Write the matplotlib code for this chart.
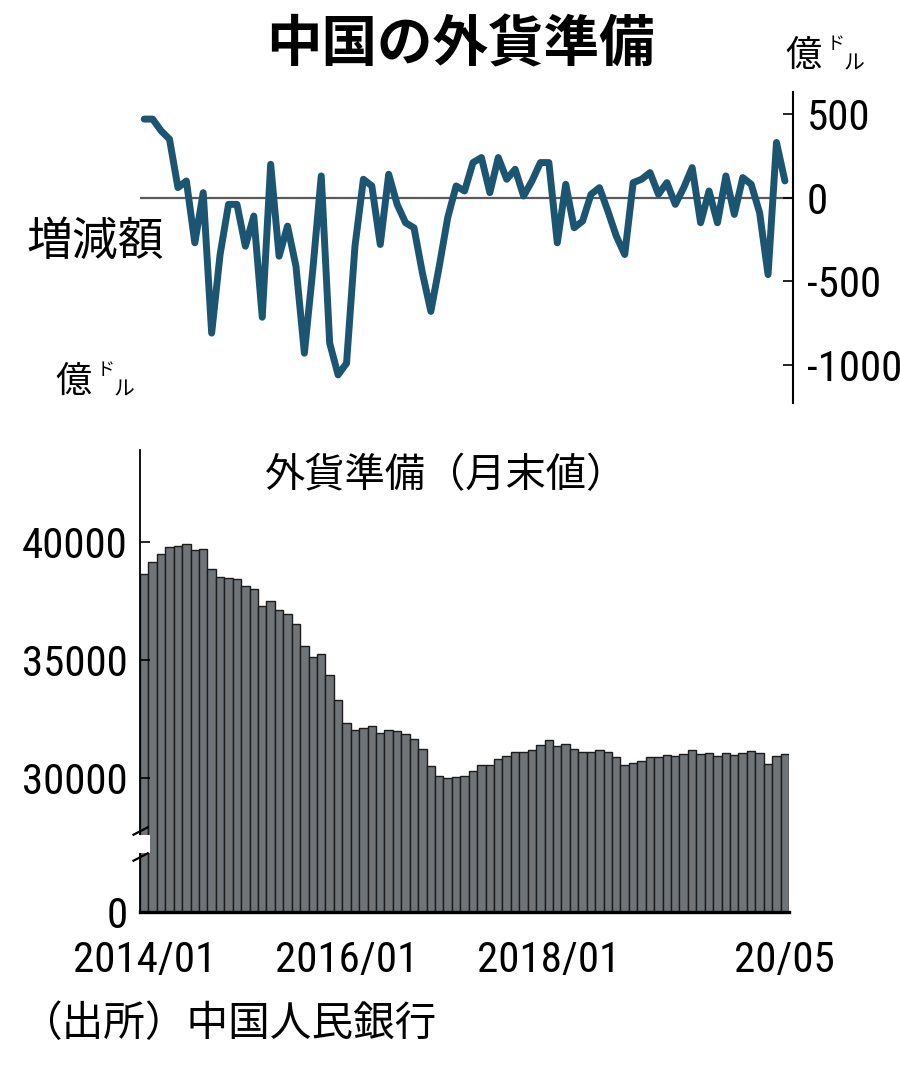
import matplotlib
matplotlib.use("Agg")
import matplotlib.pyplot as plt
from matplotlib import font_manager
from matplotlib.patches import Rectangle
import numpy as np

# monthly data 2014/01 - 2020/05, unit: 億ドル
reserves = [
    38664, 39137, 39481, 39789, 39839, 39932, 39663, 39688, 38877, 38529, 38474, 38430,
    38134, 38015, 37300, 37481, 37111, 36938, 36513, 35574, 35141, 35255, 34380, 33304,
    32309, 32023, 32126, 32197, 31917, 32052, 32011, 31852, 31664, 31207, 30516, 30105,
    29982, 30051, 30091, 30295, 30536, 30568, 30807, 30915, 31085, 31092, 31193, 31399,
    31615, 31345, 31428, 31249, 31106, 31121, 31179, 31097, 30870, 30531, 30617, 30727,
    30879, 30902, 30988, 30950, 31010, 31192, 31037, 31072, 30924, 31052, 30956, 31079,
    31155, 31067, 30606, 30915, 31017,
]
changes = [
    470, 470, 400, 350, 60, 100, -270, 30, -810, -340, -40, -40,
    -290, -110, -715, 200, -350, -170, -410, -930, -430, 130, -870, -1060,
    -990, -290, 110, 70, -280, 140, -40, -150, -180, -450, -680, -410,
    -120, 70, 40, 210, 240, 30, 240, 110, 170, 10, 100, 210,
    210, -270, 80, -180, -140, 20, 60, -80, -230, -340, 90, 110,
    150, 20, 90, -40, 60, 180, -150, 40, -150, 130, -100, 120,
    80, -90, -460, 330, 100,
]
xtick_pos = [0, 24, 48, 76]
xtick_labels = ["2014/01", "2016/01", "2018/01", "20/05"]
top_ticks = [500, 0, -500, -1000]
bottom_ticks = [30000, 35000, 40000]

plt.rcParams['font.family'] = ['Noto Sans CJK JP', 'DejaVu Sans']

# condensed font for the numbers, if one is installed
names = set(f.name for f in font_manager.fontManager.ttflist)
numprops = None
for nm in ['Liberation Sans Narrow', 'Roboto Condensed', 'Open Sans Condensed', 'Noto Sans Condensed']:
    if nm in names:
        numprops = dict(fontfamily=nm, fontsize=31)
        break
if numprops is None:
    cond = [f for f in font_manager.fontManager.ttflist
            if ('Condensed' in f.fname or 'Narrow' in f.fname or f.stretch in ('condensed', 'semi-condensed'))
            and 'Bold' not in f.fname and 'Oblique' not in f.fname and 'Italic' not in f.fname]
    if cond:
        numprops = dict(fontproperties=font_manager.FontProperties(fname=cond[0].fname, size=30))
    else:
        numprops = dict(fontfamily='Liberation Sans', fontsize=26)

W, H = 900, 1068
def fx(x):
    return x / W
def fy(y):
    return 1 - y / H

fig = plt.figure(figsize=(W / 100, H / 100), dpi=100)

x = np.arange(len(reserves))

# ---- top: monthly change
ax1 = fig.add_axes([fx(140), fy(403), (793 - 140) / W, (403 - 92) / H])
ax1.axhline(0, color='#5a5a5a', lw=1.6, zorder=1)
ax1.plot(x, changes, color='#1c5572', lw=5, solid_joinstyle='round',
         solid_capstyle='round', zorder=2)
ax1.set_xlim(-0.5, 76.96)
ax1.set_ylim(-1228, 632)
for s in ['left', 'top', 'bottom']:
    ax1.spines[s].set_visible(False)
ax1.spines['right'].set_linewidth(1.5)
ax1.yaxis.tick_right()
ax1.set_yticks(top_ticks)
ax1.set_yticklabels([str(t) for t in top_ticks], **numprops)
ax1.tick_params(axis='y', direction='in', length=7, width=1.2, pad=10)
ax1.set_xticks([])

# ---- bottom: reserves bars (broken axis)
y_floor = 24320
ax2 = fig.add_axes([fx(140), fy(912), 649 / W, (912 - 450) / H])
ax2.bar(x, reserves, width=1.0, color='#6f7479', edgecolor='#1c1c1c', linewidth=1.0)
ax2.set_xlim(-0.5, 76.5)
ax2.set_ylim(y_floor, 43900)
for s in ['top', 'right']:
    ax2.spines[s].set_visible(False)
ax2.spines['bottom'].set_linewidth(2.4)
ax2.spines['left'].set_linewidth(1.3)
ax2.set_yticks([y_floor] + bottom_ticks)
ax2.set_yticklabels(['0'] + [str(t) for t in bottom_ticks], **numprops)
ax2.tick_params(axis='y', direction='in', length=7, width=1.2, pad=9)
ax2.set_xticks(xtick_pos)
ax2.set_xticklabels(xtick_labels, **numprops)
ax2.tick_params(axis='x', length=0, pad=20)

# break mark on the value axis
y1 = (912 - 857) / 462
y2 = (912 - 831) / 462
ax2.add_patch(Rectangle((-0.003, y1 + 0.008), 0.018, y2 - y1 - 0.016, transform=ax2.transAxes,
                        facecolor='white', edgecolor='none', clip_on=False, zorder=5))
for yy in [y1, y2]:
    ax2.plot([-0.01, 0.012], [yy - 0.008, yy + 0.008], transform=ax2.transAxes,
             color='black', lw=1.6, clip_on=False, zorder=6)

# ---- texts
fig.text(fx(460), fy(45), '中国の外貨準備', ha='center', va='center',
         fontsize=40, fontweight='bold')
fig.text(fx(95), fy(242), '増減額', ha='center', va='center', fontsize=33)
fig.text(fx(446), fy(476), '外貨準備（月末値）', ha='center', va='center', fontsize=29)
fig.text(fx(20), fy(1025), '（出所）中国人民銀行', ha='left', va='center', fontsize=30)

def unit(x0, y0):
    fig.text(fx(x0), fy(y0), '億', ha='center', va='center', fontsize=26)
    fig.text(fx(x0 + 33), fy(y0 - 12), 'ド', ha='center', va='center', fontsize=13)
    fig.text(fx(x0 + 51), fy(y0 + 8), 'ル', ha='center', va='center', fontsize=15)

unit(803, 56)
unit(73, 382)

fig.savefig('out.png', dpi=100)
